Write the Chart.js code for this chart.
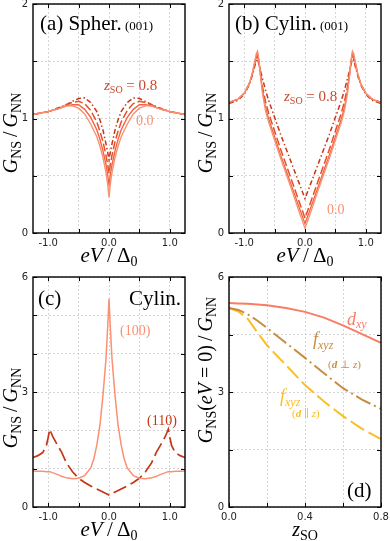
<!DOCTYPE html>
<html>
<head>
<meta charset="utf-8">
<script src="https://cdn.jsdelivr.net/npm/chart.js@4.4.1/dist/chart.umd.min.js"></script>
<style>
html, body { margin: 0; padding: 0; background: #fff; }
#wrap { position: relative; width: 390px; height: 541px; }
canvas { position: absolute; }
</style>
</head>
<body>
<div id="wrap">
  <canvas id="ca" width="195" height="270" style="left:0;top:0;width:195px;height:270px"></canvas>
  <canvas id="cb" width="195" height="270" style="left:195px;top:0;width:195px;height:270px"></canvas>
  <canvas id="cc" width="195" height="271" style="left:0;top:270px;width:195px;height:271px"></canvas>
  <canvas id="cd" width="195" height="271" style="left:195px;top:270px;width:195px;height:271px"></canvas>
</div>
<script>
// (a) spherical, (001)
const xA = [-1.25,-1.1,-1.0,-0.9,-0.8,-0.7,-0.6,-0.5,-0.4,-0.3,-0.2,-0.15,-0.1,-0.05,-0.02,0,0.02,0.05,0.1,0.15,0.2,0.3,0.4,0.5,0.6,0.7,0.8,0.9,1.0,1.1,1.25];
const aZ00 = [1.035,1.05,1.06,1.075,1.09,1.11,1.11,1.09,1.04,0.95,0.84,0.76,0.66,0.53,0.42,0.31,0.42,0.53,0.66,0.76,0.84,0.95,1.04,1.09,1.11,1.11,1.09,1.075,1.06,1.05,1.035];
const aZ02 = [1.035,1.05,1.06,1.075,1.09,1.11,1.12,1.12,1.08,1.01,0.90,0.82,0.72,0.60,0.50,0.42,0.50,0.60,0.72,0.82,0.90,1.01,1.08,1.12,1.12,1.11,1.09,1.075,1.06,1.05,1.035];
const aZ04 = [1.035,1.05,1.06,1.075,1.095,1.12,1.14,1.15,1.13,1.07,0.97,0.89,0.80,0.68,0.59,0.52,0.59,0.68,0.80,0.89,0.97,1.07,1.13,1.15,1.14,1.12,1.095,1.075,1.06,1.05,1.035];
const aZ08 = [1.035,1.05,1.06,1.08,1.10,1.12,1.15,1.175,1.18,1.14,1.06,0.99,0.90,0.78,0.70,0.64,0.70,0.78,0.90,0.99,1.06,1.14,1.18,1.175,1.15,1.12,1.10,1.08,1.06,1.05,1.035];

// (b) cylindrical, (001)
const xB = [-1.25,-1.1,-1.0,-0.92,-0.87,-0.83,-0.8,-0.78,-0.76,-0.73,-0.7,-0.65,-0.6,-0.5,-0.4,-0.3,-0.2,-0.1,0,0.1,0.2,0.3,0.4,0.5,0.6,0.65,0.7,0.73,0.76,0.78,0.8,0.83,0.87,0.92,1.0,1.1,1.25];
const bZ00 = [1.14,1.17,1.22,1.30,1.39,1.49,1.57,1.59,1.52,1.36,1.22,1.07,0.97,0.81,0.65,0.50,0.35,0.19,0.04,0.19,0.35,0.50,0.65,0.81,0.97,1.07,1.22,1.36,1.52,1.59,1.57,1.49,1.39,1.30,1.22,1.17,1.14];
const bZ02 = [1.14,1.17,1.22,1.30,1.38,1.48,1.55,1.57,1.51,1.37,1.25,1.10,1.00,0.84,0.68,0.53,0.38,0.23,0.08,0.23,0.38,0.53,0.68,0.84,1.00,1.10,1.25,1.37,1.51,1.57,1.55,1.48,1.38,1.30,1.22,1.17,1.14];
const bZ04 = [1.14,1.17,1.22,1.30,1.38,1.47,1.53,1.55,1.50,1.38,1.28,1.15,1.05,0.89,0.73,0.58,0.43,0.28,0.13,0.28,0.43,0.58,0.73,0.89,1.05,1.15,1.28,1.38,1.50,1.55,1.53,1.47,1.38,1.30,1.22,1.17,1.14];
const bZ08 = [1.13,1.16,1.21,1.29,1.37,1.45,1.51,1.52,1.48,1.41,1.35,1.25,1.16,1.01,0.86,0.72,0.58,0.44,0.30,0.44,0.58,0.72,0.86,1.01,1.16,1.25,1.35,1.41,1.48,1.52,1.51,1.45,1.37,1.29,1.21,1.16,1.13];

// (c) cylindrical, (100) and (110)
const xC = [-1.25,-1.17,-1.09,-1.03,-1.0,-0.975,-0.95,-0.92,-0.85,-0.78,-0.7,-0.6,-0.5,-0.4,-0.3,-0.25,-0.2,-0.15,-0.1,-0.05,-0.02,0,0.02,0.05,0.1,0.15,0.2,0.25,0.3,0.4,0.5,0.6,0.7,0.78,0.85,0.92,0.95,0.975,1.0,1.03,1.09,1.17,1.25];
const c100 = [0.94,0.93,0.93,0.92,0.92,0.92,0.91,0.89,0.85,0.80,0.76,0.74,0.75,0.82,1.02,1.25,1.62,2.12,2.9,3.85,4.75,5.43,4.75,3.85,2.9,2.12,1.62,1.25,1.02,0.82,0.75,0.74,0.76,0.80,0.85,0.89,0.91,0.92,0.92,0.92,0.93,0.93,0.94];
const c110 = [1.29,1.34,1.42,1.6,1.82,2.03,1.93,1.82,1.62,1.43,1.15,0.92,0.75,0.64,0.55,0.51,0.47,0.43,0.39,0.35,0.33,0.31,0.33,0.35,0.39,0.43,0.47,0.51,0.55,0.64,0.75,0.92,1.15,1.43,1.62,1.82,1.93,2.03,1.82,1.6,1.42,1.34,1.29];

// (d) zero-bias conductance vs z_SO
const zSO = [0,0.05,0.1,0.15,0.2,0.3,0.4,0.5,0.6,0.7,0.8];
const dXY = [5.32,5.31,5.30,5.28,5.26,5.19,5.09,4.94,4.74,4.51,4.28];
const fPerp = [5.19,5.14,5.02,4.86,4.67,4.28,3.89,3.49,3.10,2.80,2.56];
const fPar = [5.19,5.10,4.90,4.55,4.22,3.70,3.18,2.75,2.37,2.04,1.77];

const biasTicks = [-1, -0.5, 0, 0.5, 1];
const biasLabels = [-1, 0, 1];

const C_LIGHT = 'rgb(250,145,115)';
const C_MED = 'rgb(242,100,65)';
const C_DASH = 'rgb(232,78,40)';
const C_DARK = 'rgb(198,55,25)';
const C_LAB = 'rgb(200,72,45)';
const C_110 = 'rgb(195,55,20)';
const C_DXY = 'rgb(248,125,100)';
const C_BROWN = 'rgb(200,140,65)';
const C_YEL = 'rgb(250,190,35)';

const SERIF = "'Liberation Serif', 'Times New Roman', 'DejaVu Serif', serif";
const it = s => 'italic ' + s + 'px ' + SERIF;
const rm = s => 'normal ' + s + 'px ' + SERIF;
const TICKFONT = { family: 'DejaVu Sans', size: 10 };
const THIN = '\u2009';

function series(xs, ys, color, dash, width) {
  return {
    data: xs.map((x, i) => ({ x: x, y: ys[i] })),
    borderColor: color,
    borderWidth: width || 1.5,
    borderDash: dash || [],
    pointRadius: 0,
    tension: 0,
    fill: false
  };
}

function rich(ctx, t) {
  ctx.save();
  ctx.translate(t.x, t.y);
  if (t.rot) ctx.rotate(-Math.PI / 2);
  ctx.fillStyle = t.color || '#000';
  ctx.textBaseline = 'alphabetic';
  ctx.textAlign = 'left';
  let w = 0;
  t.parts.forEach(p => { ctx.font = p[1]; w += ctx.measureText(p[0]).width; });
  let cx = t.align === 'center' ? -w / 2 : (t.align === 'right' ? -w : 0);
  t.parts.forEach(p => {
    ctx.font = p[1];
    ctx.fillText(p[0], cx, p[2] || 0);
    cx += ctx.measureText(p[0]).width;
  });
  ctx.restore();
}

const slash = s => THIN + '/' + THIN;
const yTitle = [['G', it(20)], ['NS', rm(14), 4], [slash(), rm(20)], ['G', it(20)], ['NN', rm(14), 4]];
const eTitle = [['eV', it(21)], [slash(), rm(21)], ['Δ', rm(21)], ['0', rm(14), 4]];
const zLab = [['z', it(15)], ['SO', rm(10), 3], [' = 0.8', rm(15)]];

const TEXTS = {
  ca: [
    { x: 16.5, y: 133, rot: true, align: 'center', parts: yTitle },
    { x: 109, y: 262, align: 'center', parts: eTitle },
    { x: 40, y: 30, parts: [['(a) Spher.', rm(21)], [' (001)', rm(13)]] },
    { x: 104, y: 90, color: C_LAB, parts: zLab },
    { x: 136, y: 125, color: C_LIGHT, parts: [['0.0', rm(14)]] }
  ],
  cb: [
    { x: 16.5, y: 133, rot: true, align: 'center', parts: yTitle },
    { x: 110, y: 262, align: 'center', parts: eTitle },
    { x: 40, y: 30, parts: [['(b) Cylin.', rm(21)], [' (001)', rm(13)]] },
    { x: 89, y: 101, color: C_LAB, parts: zLab },
    { x: 132, y: 214, color: C_LIGHT, parts: [['0.0', rm(14)]] }
  ],
  cc: [
    { x: 16.5, y: 138, rot: true, align: 'center', parts: yTitle },
    { x: 109, y: 266, align: 'center', parts: eTitle },
    { x: 38, y: 35, parts: [['(c)', rm(21)]] },
    { x: 181, y: 35, align: 'right', parts: [['Cylin.', rm(21)]] },
    { x: 120, y: 65, color: C_LIGHT, parts: [['(100)', rm(14)]] },
    { x: 147, y: 155, color: C_110, parts: [['(110)', rm(14)]] }
  ],
  cd: [
    { x: 16.5, y: 100, rot: true, align: 'center', parts: [['G', it(20)], ['NS', rm(14), 4], ['(', rm(20)], ['eV', it(20)], [' = 0)', rm(20)], [slash(), rm(20)], ['G', it(20)], ['NN', rm(14), 4]] },
    { x: 110, y: 266, align: 'center', parts: [['z', it(20)], ['SO', rm(14), 4]] },
    { x: 152, y: 55, color: C_DXY, parts: [['d', it(18)], ['xy', it(12), 3]] },
    { x: 118, y: 75, color: C_BROWN, parts: [['f', it(18)], ['xyz', it(12), 4]] },
    { x: 133, y: 98, color: C_BROWN, parts: [['(', rm(11)], ['d', 'bold italic 11px ' + SERIF], [' ⊥ ', rm(11)], ['z', it(11)], [')', rm(11)]] },
    { x: 85, y: 132, color: C_YEL, parts: [['f', it(18)], ['xyz', it(12), 4]] },
    { x: 97, y: 147, color: C_YEL, parts: [['(', rm(11)], ['d', 'bold italic 11px ' + SERIF], [' ∥ ', rm(11)], ['z', it(11)], [')', rm(11)]] },
    { x: 152, y: 227, parts: [['(d)', rm(21)]] }
  ]
};

// box frame with inward ticks, plus the text
const framePlugin = {
  id: 'framePlugin',
  afterDatasetsDraw(chart) {
    const ctx = chart.ctx;
    const a = chart.chartArea;
    const sx = chart.scales.x, sy = chart.scales.y;
    ctx.save();
    ctx.strokeStyle = '#000';
    ctx.lineWidth = 1;
    ctx.beginPath();
    sx.ticks.forEach(t => {
      const px = Math.round(sx.getPixelForValue(t.value)) + 0.5;
      ctx.moveTo(px, a.bottom); ctx.lineTo(px, a.bottom - 4);
      ctx.moveTo(px, a.top); ctx.lineTo(px, a.top + 4);
    });
    sy.ticks.forEach(t => {
      const py = Math.round(sy.getPixelForValue(t.value)) + 0.5;
      ctx.moveTo(a.left, py); ctx.lineTo(a.left + 4, py);
      ctx.moveTo(a.right, py); ctx.lineTo(a.right - 4, py);
    });
    ctx.stroke();
    ctx.lineWidth = 1.4;
    ctx.strokeRect(a.left, a.top, a.right - a.left, a.bottom - a.top);
    ctx.restore();
    (TEXTS[chart.canvas.id] || []).forEach(t => rich(ctx, t));
  }
};

function panel(id, cfg) {
  return new Chart(document.getElementById(id), {
    type: 'line',
    data: { datasets: cfg.datasets },
    options: {
      responsive: false,
      animation: false,
      devicePixelRatio: 1,
      layout: { padding: { left: 0, right: cfg.padR, top: cfg.padT, bottom: 0 } },
      plugins: { legend: { display: false }, tooltip: { enabled: false } },
      scales: {
        x: {
          type: 'linear', min: cfg.xMin, max: cfg.xMax,
          afterBuildTicks: s => { s.ticks = cfg.xTicks.map(v => ({ value: v })); },
          afterFit: s => { s.height = cfg.xH; s.paddingLeft = 0; s.paddingRight = 0; },
          ticks: {
            callback: v => cfg.xLab.includes(v) ? v.toFixed(1) : '',
            font: TICKFONT, color: '#222', padding: 4, maxRotation: 0, autoSkip: false
          },
          grid: { color: '#c6c6c6', lineWidth: 0.7, drawTicks: false, tickLength: 0 },
          border: { display: false, dash: [2, 2] }
        },
        y: {
          min: cfg.yMin, max: cfg.yMax,
          afterBuildTicks: s => { s.ticks = cfg.yTicks.map(v => ({ value: v })); },
          afterFit: s => { s.width = cfg.yW; s.paddingTop = 0; s.paddingBottom = 0; },
          ticks: {
            callback: v => cfg.yLab.includes(v) ? String(v) : '',
            font: TICKFONT, color: '#222', padding: 5, autoSkip: false
          },
          grid: { color: '#c6c6c6', lineWidth: 0.7, drawTicks: false, tickLength: 0 },
          border: { display: false, dash: [2, 2] }
        }
      }
    },
    plugins: [framePlugin]
  });
}

const DASH = [8, 3];
const DASHDOT = [5, 2.5, 1.5, 2.5];

panel('ca', {
  xMin: -1.25, xMax: 1.25, xTicks: biasTicks, xLab: biasLabels,
  yMin: 0, yMax: 2, yTicks: [0, 0.5, 1, 1.5, 2], yLab: [0, 1, 2],
  yW: 33, xH: 37, padR: 10, padT: 4,
  datasets: [
    series(xA, aZ00, C_LIGHT, [], 1.4),
    series(xA, aZ02, C_MED, [], 1.4),
    series(xA, aZ04, C_DASH, DASH, 1.5),
    series(xA, aZ08, C_DARK, DASHDOT, 1.5)
  ]
});

panel('cb', {
  xMin: -1.25, xMax: 1.25, xTicks: biasTicks, xLab: biasLabels,
  yMin: 0, yMax: 2, yTicks: [0, 0.5, 1, 1.5, 2], yLab: [0, 1, 2],
  yW: 34, xH: 37, padR: 9, padT: 4,
  datasets: [
    series(xB, bZ00, C_LIGHT, [], 1.3),
    series(xB, bZ02, C_MED, [], 1.3),
    series(xB, bZ04, C_DASH, DASH, 1.5),
    series(xB, bZ08, C_DARK, DASHDOT, 1.5)
  ]
});

panel('cc', {
  xMin: -1.25, xMax: 1.25, xTicks: biasTicks, xLab: biasLabels,
  yMin: 0, yMax: 6, yTicks: [0, 1, 2, 3, 4, 5, 6], yLab: [0, 3, 6],
  yW: 33, xH: 34, padR: 10, padT: 7,
  datasets: [
    series(xC, c100, C_LIGHT, [], 1.5),
    series(xC, c110, C_110, [14, 5], 1.7)
  ]
});

panel('cd', {
  xMin: 0, xMax: 0.8, xTicks: [0, 0.2, 0.4, 0.6, 0.8], xLab: [0, 0.4, 0.8],
  yMin: 0, yMax: 6, yTicks: [0, 1.5, 3, 4.5, 6], yLab: [0, 3, 6],
  yW: 34, xH: 34, padR: 9, padT: 7,
  datasets: [
    series(zSO, dXY, C_DXY, [], 2),
    series(zSO, fPerp, C_BROWN, [16, 4, 2, 4], 2),
    series(zSO, fPar, C_YEL, [16, 5], 2)
  ]
});
</script>
</body>
</html>
